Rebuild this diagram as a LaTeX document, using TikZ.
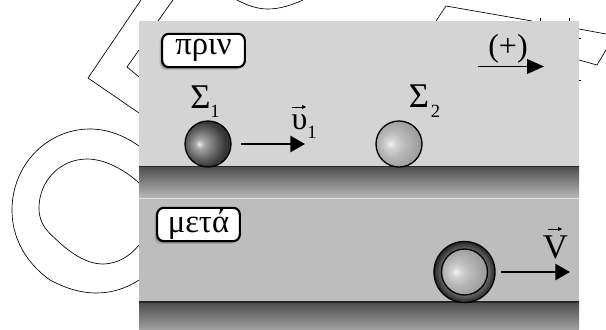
\documentclass[tikz,border=0pt]{standalone}
\usepackage{fontspec}
\setmainfont{Liberation Serif}
\usetikzlibrary{arrows.meta,shadows}
\definecolor{panelA}{gray}{0.83}
\definecolor{panelB}{gray}{0.74}
\pgfdeclareradialshading{darkball}{\pgfpoint{-9.8bp}{0bp}}{color(0bp)=(black!8);color(5bp)=(black!35);color(14bp)=(black!56);color(24bp)=(black!78);color(34bp)=(black!86);color(50bp)=(black!90)}
\pgfdeclareradialshading{lightball}{\pgfpoint{-9.8bp}{0bp}}{color(0bp)=(black!4);color(5bp)=(black!17);color(14bp)=(black!28);color(24bp)=(black!36);color(34bp)=(black!44);color(50bp)=(black!50)}
\pgfdeclareradialshading{ringshade}{\pgfpoint{0bp}{0bp}}{color(0bp)=(black!60);color(19bp)=(black!60);color(25bp)=(black!85);color(50bp)=(black!85)}
\tikzset{
 x=0.75pt,y=-0.75pt,
 outline/.style={draw=black,line width=0.5pt},
 force/.style={draw=black,line width=2.1pt,-{Triangle[length=11pt,width=12pt]}},
 thinforce/.style={draw=black,line width=1.4pt,-{Triangle[length=12.7pt,width=11pt]}},
 vecmark/.style={draw=black,line width=0.5pt,-{Triangle[length=3pt,width=3pt]}},
 tag/.style={draw=black,line width=1.6pt,fill=white,rounded corners=5pt,inner sep=0pt,font=\fontsize{24.5}{24.5}\selectfont,
   general shadow={shadow xshift=-2pt,shadow yshift=-2pt,fill=black,opacity=0.15},
   general shadow={shadow xshift=-1pt,shadow yshift=-1pt,fill=black,opacity=0.25}},
 lbl/.style={inner sep=0pt,text=black,anchor=base},
 sigma/.style={lbl,font=\fontsize{26}{26}\selectfont},
 sub/.style={lbl,font=\fontsize{14}{14}\selectfont},
 rim/.style={draw=black,line width=1pt,circle,inner sep=0pt},
}
\begin{document}
\begin{tikzpicture}
\useasboundingbox (0,0) rectangle (606,329);
% contours behind the panel
\draw[outline] (139,146) .. controls (125,136) and (108,129) .. (90,129) .. controls (47,129) and (12,165) .. (12,210) .. controls (12,245) and (33,268) .. (50,280) .. controls (65,288) and (80,293) .. (97,293) .. controls (112,293) and (127,288) .. (139,280);
\draw[outline] (139,183) .. controls (125,170) and (105,159) .. (87,159) .. controls (60,159) and (39,181) .. (39,208) .. controls (39,225) and (48,232) .. (60,243) .. controls (72,254) and (88,264) .. (102,264) .. controls (118,264) and (130,256) .. (139,245);
\draw[outline] (139,113) -- (88,78) -- (141,0);
\draw[outline] (158,21) -- (173,0);
\draw[outline] (139,77) -- (127,67) -- (139,50);
\draw[outline] (237,0) .. controls (250,7) and (260,9) .. (268,9) .. controls (280,9) and (292,5) .. (303,0);
\draw[outline] (436,21) -- (446,6) -- (532,21);
\draw[outline] (579,29) -- (606,34);
\draw[outline] (606,50) -- (597,65) -- (579,60);
\draw[outline] (540,18) -- (540,21);
\draw[outline] (569,18) -- (569,21);
\draw[outline] (579,38) -- (581,38);
\draw[outline] (579,80) -- (581,80);
% panels
\fill[panelA] (139,21) rectangle (579,166);
\fill[panelB] (139,198) rectangle (579,302);
\shade[top color=black!70,bottom color=black!28] (139,166) rectangle (579,198);
\shade[top color=black!70,bottom color=black!38] (139,302) rectangle (579,329);
\draw[black!85,line width=0.9pt] (139,166.5) -- (579,166.5);
\draw[black!85,line width=0.9pt] (139,302) -- (579,302);
\draw[black!12,line width=0.5pt] (139,198) -- (579,198);
% tags
\node[tag,minimum width=62pt,minimum height=25pt] (prin) at (203.5,50.5) {πριν};
\node[tag,minimum width=62pt,minimum height=25pt] (meta) at (198.5,224.5) {μετά};
% spheres
\shade[shading=darkball] (208,144) circle [radius=23];
\node[rim,minimum size=34.5pt] (s1) at (208,144) {};
\shade[shading=lightball] (399,144) circle [radius=23];
\node[rim,minimum size=34.5pt] (s2) at (399,144) {};
\shade[shading=ringshade] (464.5,272) circle [radius=30.5];
\node[rim,minimum size=45.75pt] (s3o) at (464.5,272) {};
\shade[shading=lightball] (464.5,272) circle [radius=23];
\node[rim,minimum size=34.5pt] (s3) at (464.5,272) {};
% labels
\node[sigma] (sig1) at (200.5,108) {Σ};
\node[sub] (sub1) at (215,117) {1};
\node[sigma] (sig2) at (419,107) {Σ};
\node[sub] (sub2) at (435.5,117) {2};
\node[lbl,font=\fontsize{24}{24}\selectfont] (plus) at (508,56) {(+)};
\node[lbl,font=\fontsize{24}{24}\selectfont] (u1) at (299.5,129) {υ};
\node[sub] (sub3) at (312,138) {1};
\node[lbl,font=\fontsize{26}{26}\selectfont] (vv) at (555.5,258) {V};
\coordinate (um0) at (292,107);
\coordinate (um1) at (306,107);
\draw[vecmark] (um0) -- (um1);
\coordinate (vm0) at (548,229);
\coordinate (vm1) at (562,229);
\draw[vecmark] (vm0) -- (vm1);
% arrows
\coordinate (a0) at (241,144);
\coordinate (a1) at (305,144);
\draw[force] (a0) -- (a1);
\coordinate (b0) at (478,66.5);
\coordinate (b1) at (544,66.5);
\draw[thinforce] (b0) -- (b1);
\coordinate (c0) at (501,272);
\coordinate (c1) at (570,272);
\draw[force] (c0) -- (c1);
\end{tikzpicture}
\end{document}
